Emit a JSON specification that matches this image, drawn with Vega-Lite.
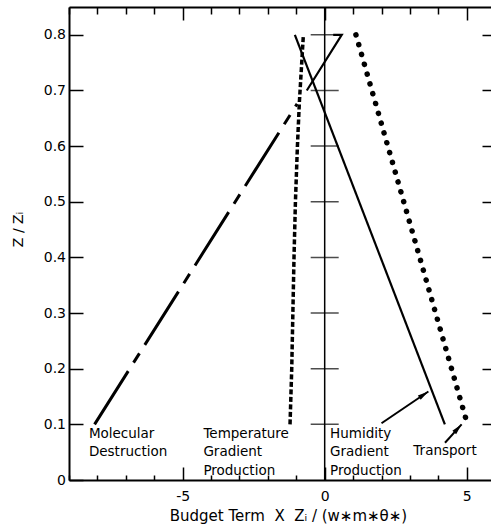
{
  "$schema": "https://vega.github.io/schema/vega-lite/v6.json",
  "autosize": "none",
  "width": 422,
  "height": 473,
  "padding": {"left": 69, "top": 7, "right": 0, "bottom": 51},
  "background": "white",
  "config": {
    "view": {"stroke": null},
    "font": "DejaVu Sans",
    "axis": {
      "grid": false,
      "domainColor": "black",
      "domainWidth": 2,
      "tickColor": "black",
      "tickWidth": 1.5,
      "labelColor": "black",
      "labelFont": "DejaVu Sans",
      "labelFontSize": 14,
      "titleColor": "black",
      "titleFont": "DejaVu Sans",
      "titleFontSize": 14,
      "titleFontWeight": "normal"
    }
  },
  "datasets": {
    "curves": [
      {"series": "Molecular Destruction", "i": 0, "x": -8.1, "y": 0.10},
      {"series": "Molecular Destruction", "i": 1, "x": -0.97, "y": 0.676},
      {"series": "Temperature Gradient Production", "i": 0, "x": -1.22, "y": 0.10},
      {"series": "Temperature Gradient Production", "i": 1, "x": -1.16, "y": 0.20},
      {"series": "Temperature Gradient Production", "i": 2, "x": -1.12, "y": 0.30},
      {"series": "Temperature Gradient Production", "i": 3, "x": -1.08, "y": 0.40},
      {"series": "Temperature Gradient Production", "i": 4, "x": -1.03, "y": 0.50},
      {"series": "Temperature Gradient Production", "i": 5, "x": -0.96, "y": 0.60},
      {"series": "Temperature Gradient Production", "i": 6, "x": -0.89, "y": 0.68},
      {"series": "Temperature Gradient Production", "i": 7, "x": -0.75, "y": 0.80},
      {"series": "Humidity Gradient Production", "i": 0, "x": 4.23, "y": 0.10},
      {"series": "Humidity Gradient Production", "i": 1, "x": -1.05, "y": 0.80},
      {"series": "Upper segment", "i": 0, "x": -0.63, "y": 0.70},
      {"series": "Upper segment", "i": 1, "x": 0.60, "y": 0.80},
      {"series": "Upper segment", "i": 2, "x": 0.30, "y": 0.80},
      {"series": "Transport", "i": 0, "x": 1.10, "y": 0.80},
      {"series": "Transport", "i": 1, "x": 4.97, "y": 0.11}
    ],
    "arrows": [
      {"target": "Humidity Gradient Production", "x": 2.0, "y": 0.102, "x2": 3.65, "y2": 0.159},
      {"target": "Transport", "x": 4.235, "y": 0.067, "x2": 4.82, "y2": 0.10}
    ],
    "labels": [
      {"text": "Molecular\nDestruction", "x": -8.30, "y": 0.0755},
      {"text": "Temperature\nGradient\nProduction", "x": -4.27, "y": 0.0755},
      {"text": "Humidity\nGradient\nProduction", "x": 0.19, "y": 0.0755},
      {"text": "Transport", "x": 3.12, "y": 0.045}
    ],
    "zeroTicks": [
      {"y": 0.1}, {"y": 0.2}, {"y": 0.3}, {"y": 0.4},
      {"y": 0.5}, {"y": 0.6}, {"y": 0.7}, {"y": 0.8}
    ]
  },
  "layer": [
    {
      "data": {"values": [{}]},
      "mark": {"type": "rule", "color": "black", "strokeWidth": 1.5},
      "encoding": {
        "x": {"datum": 0, "type": "quantitative", "scale": {"domain": [-9, 5.854], "nice": false, "zero": false}, "axis": null}
      }
    },
    {
      "data": {"name": "zeroTicks"},
      "mark": {"type": "tick", "orient": "horizontal", "color": "black", "size": 28, "thickness": 1.5},
      "encoding": {
        "x": {"datum": 0, "type": "quantitative", "scale": {"domain": [-9, 5.854], "nice": false, "zero": false}, "axis": null},
        "y": {"field": "y", "type": "quantitative", "scale": {"domain": [0, 0.85], "nice": false, "zero": false}, "axis": null}
      }
    },
    {
      "data": {"name": "curves"},
      "transform": [{"filter": "datum.series === 'Humidity Gradient Production' || datum.series === 'Upper segment'"}],
      "mark": {"type": "line", "color": "black", "strokeWidth": 2.2},
      "encoding": {
        "detail": {"field": "series"},
        "order": {"field": "i"},
        "x": {
          "field": "x", "type": "quantitative",
          "scale": {"domain": [-9, 5.854], "nice": false, "zero": false},
          "axis": {
            "orient": "bottom",
            "values": [-9, -8, -7, -6, -5, -4, -3, -2, -1, 0, 1, 2, 3, 4, 5],
            "tickSize": {"condition": {"test": "datum.value % 5 === 0", "value": -13}, "value": -5},
            "labelPadding": 22,
            "labelExpr": "datum.value === -5 ? '-5' : datum.value === 0 ? '0' : datum.value === 5 ? '5' : ''",
            "title": "Budget Term\u00a0\u00a0X\u00a0\u00a0Z\u1d62 / (w\u2217m\u2217\u03b8\u2217)",
            "titleFontSize": 15,
            "titleX": 219,
            "titleY": 40,
            "titleBaseline": "alphabetic",
            "titleAlign": "center"
          }
        },
        "y": {
          "field": "y", "type": "quantitative",
          "scale": {"domain": [0, 0.85], "nice": false, "zero": false},
          "axis": {
            "orient": "left",
            "values": [0, 0.1, 0.2, 0.3, 0.4, 0.5, 0.6, 0.7, 0.8],
            "tickSize": -14,
            "labelPadding": 17.5,
            "labelExpr": "datum.value === 0 ? '0' : format(datum.value, '.1f')",
            "title": "Z / Z\u1d62",
            "titleAngle": -90,
            "titleX": -51,
            "titleY": 222,
            "titleAlign": "center",
            "titleBaseline": "middle"
          }
        }
      }
    },
    {
      "data": {"name": "curves"},
      "transform": [{"filter": "datum.series === 'Transport'"}],
      "mark": {"type": "line", "color": "black", "strokeWidth": 5.5, "strokeDash": [0.1, 10.1], "strokeCap": "round"},
      "encoding": {
        "order": {"field": "i"},
        "x": {
          "field": "x", "type": "quantitative",
          "scale": {"domain": [-9, 5.854], "nice": false, "zero": false},
          "axis": {
            "orient": "top",
            "values": [-9, -8, -7, -6, -5, -4, -3, -2, -1, 0, 1, 2, 3, 4, 5],
            "tickSize": {"condition": {"test": "datum.value % 5 === 0", "value": -13}, "value": -7},
            "labels": false,
            "title": null
          }
        },
        "y": {
          "field": "y", "type": "quantitative",
          "scale": {"domain": [0, 0.85], "nice": false, "zero": false},
          "axis": {
            "orient": "right",
            "values": [0.1, 0.2, 0.3, 0.4, 0.5, 0.6, 0.7, 0.8],
            "tickSize": -9,
            "domain": false,
            "labels": false,
            "title": null
          }
        }
      }
    },
    {
      "data": {"name": "curves"},
      "transform": [{"filter": "datum.series === 'Molecular Destruction'"}],
      "mark": {"type": "line", "color": "black", "strokeWidth": 3, "strokeDash": [63, 10, 11, 10]},
      "encoding": {
        "order": {"field": "i"},
        "x": {"field": "x", "type": "quantitative", "scale": {"domain": [-9, 5.854], "nice": false, "zero": false}, "axis": null},
        "y": {"field": "y", "type": "quantitative", "scale": {"domain": [0, 0.85], "nice": false, "zero": false}, "axis": null}
      }
    },
    {
      "data": {"name": "curves"},
      "transform": [{"filter": "datum.series === 'Temperature Gradient Production'"}],
      "mark": {"type": "line", "color": "black", "strokeWidth": 3.5, "strokeDash": [5, 2.5]},
      "encoding": {
        "order": {"field": "i"},
        "x": {"field": "x", "type": "quantitative", "scale": {"domain": [-9, 5.854], "nice": false, "zero": false}, "axis": null},
        "y": {"field": "y", "type": "quantitative", "scale": {"domain": [0, 0.85], "nice": false, "zero": false}, "axis": null}
      }
    },
    {
      "data": {"name": "arrows"},
      "mark": {"type": "rule", "color": "black", "strokeWidth": 2},
      "encoding": {
        "x": {"field": "x", "type": "quantitative", "scale": {"domain": [-9, 5.854], "nice": false, "zero": false}, "axis": null},
        "y": {"field": "y", "type": "quantitative", "scale": {"domain": [0, 0.85], "nice": false, "zero": false}, "axis": null},
        "x2": {"field": "x2"},
        "y2": {"field": "y2"}
      }
    },
    {
      "data": {"name": "arrows"},
      "transform": [{"filter": "datum.target === 'Humidity Gradient Production'"}],
      "mark": {"type": "point", "shape": "M0,0L0.5,2.2L-0.5,2.2Z", "filled": true, "color": "black", "opacity": 1, "size": 100, "angle": 56, "strokeWidth": 0},
      "encoding": {
        "x": {"field": "x2", "type": "quantitative", "scale": {"domain": [-9, 5.854], "nice": false, "zero": false}, "axis": null},
        "y": {"field": "y2", "type": "quantitative", "scale": {"domain": [0, 0.85], "nice": false, "zero": false}, "axis": null}
      }
    },
    {
      "data": {"name": "arrows"},
      "transform": [{"filter": "datum.target === 'Transport'"}],
      "mark": {"type": "point", "shape": "M0,0L0.5,2.2L-0.5,2.2Z", "filled": true, "color": "black", "opacity": 1, "size": 100, "angle": 42, "strokeWidth": 0},
      "encoding": {
        "x": {"field": "x2", "type": "quantitative", "scale": {"domain": [-9, 5.854], "nice": false, "zero": false}, "axis": null},
        "y": {"field": "y2", "type": "quantitative", "scale": {"domain": [0, 0.85], "nice": false, "zero": false}, "axis": null}
      }
    },
    {
      "data": {"name": "labels"},
      "mark": {"type": "text", "align": "left", "baseline": "alphabetic", "lineBreak": "\n", "lineHeight": 18.5, "font": "DejaVu Sans", "fontSize": 13.5, "color": "black"},
      "encoding": {
        "x": {"field": "x", "type": "quantitative", "scale": {"domain": [-9, 5.854], "nice": false, "zero": false}, "axis": null},
        "y": {"field": "y", "type": "quantitative", "scale": {"domain": [0, 0.85], "nice": false, "zero": false}, "axis": null},
        "text": {"field": "text"}
      }
    }
  ],
  "resolve": {"axis": {"x": "independent", "y": "independent"}}
}
